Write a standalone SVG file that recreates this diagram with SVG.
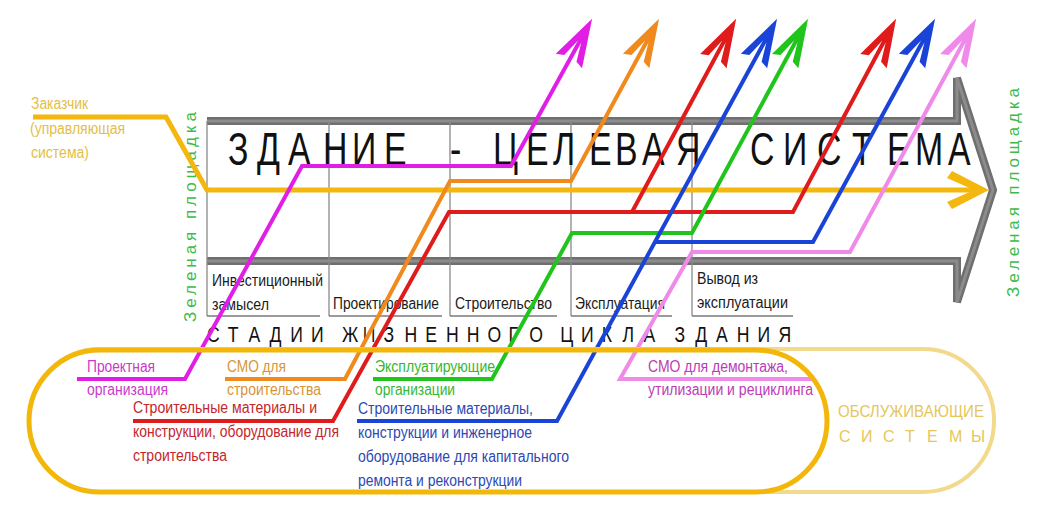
<svg xmlns="http://www.w3.org/2000/svg" width="1039" height="520" viewBox="0 0 1039 520">
<style>
.lbl{font-family:"Liberation Sans",Arial,sans-serif;font-size:16px}
.stg{font-family:"Liberation Sans",Arial,sans-serif;font-size:16px;fill:#1a1a1a}
.big{font-family:"Liberation Sans",Arial,sans-serif;fill:#111}
.grn{font-family:"Liberation Sans",Arial,sans-serif;font-size:17px;fill:#3dbb4a}
.div{stroke:#8a8a8a;stroke-width:1.3;fill:none}
.ln{fill:none;stroke-width:4;stroke-linejoin:miter}
</style>
<defs>
<marker id="ah-mag" markerUnits="userSpaceOnUse" viewBox="-45 -20 60 40" markerWidth="60" markerHeight="40" refX="0" refY="0" orient="auto"><path d="M7,0 L-41,-15 L-38,-7 L-19,-2 L-19,2 L-38,7 L-41,15 Z" fill="#e11ee6"/></marker>
<marker id="ah-org" markerUnits="userSpaceOnUse" viewBox="-45 -20 60 40" markerWidth="60" markerHeight="40" refX="0" refY="0" orient="auto"><path d="M7,0 L-41,-15 L-38,-7 L-19,-2 L-19,2 L-38,7 L-41,15 Z" fill="#f08a1c"/></marker>
<marker id="ah-red" markerUnits="userSpaceOnUse" viewBox="-45 -20 60 40" markerWidth="60" markerHeight="40" refX="0" refY="0" orient="auto"><path d="M7,0 L-41,-15 L-38,-7 L-19,-2 L-19,2 L-38,7 L-41,15 Z" fill="#e01b1b"/></marker>
<marker id="ah-blu" markerUnits="userSpaceOnUse" viewBox="-45 -20 60 40" markerWidth="60" markerHeight="40" refX="0" refY="0" orient="auto"><path d="M7,0 L-41,-15 L-38,-7 L-19,-2 L-19,2 L-38,7 L-41,15 Z" fill="#1a44d8"/></marker>
<marker id="ah-grn" markerUnits="userSpaceOnUse" viewBox="-45 -20 60 40" markerWidth="60" markerHeight="40" refX="0" refY="0" orient="auto"><path d="M7,0 L-41,-15 L-38,-7 L-19,-2 L-19,2 L-38,7 L-41,15 Z" fill="#21c41c"/></marker>
<marker id="ah-vio" markerUnits="userSpaceOnUse" viewBox="-45 -20 60 40" markerWidth="60" markerHeight="40" refX="0" refY="0" orient="auto"><path d="M7,0 L-41,-15 L-38,-7 L-19,-2 L-19,2 L-38,7 L-41,15 Z" fill="#ef8ae9"/></marker>
</defs>
<rect width="1039" height="520" fill="#ffffff"/>

<g id="building-arrow">
<path d="M207,121 H957 V78 L993,190 L957,302 V261 H207" fill="none" stroke="#6f6f6f" stroke-width="8" stroke-linejoin="miter"/>
<path d="M207,121 H957 V78 L993,190 L957,302 V261 H207" fill="none" stroke="#8c8c8c" stroke-width="3" stroke-linejoin="miter"/>
<path class="div" d="M207,121 V316 M329,121 V316 M450,121 V316 M571,121 V316 M692,121 V316"/>
<text class="big" font-size="47" transform="scale(0.72,1)" x="316.7 356.9 400 448.6 488.9 533.3 625 684.7 730.6 768.1 818.1 854.2 891.7 938.9 1041.7 1087.5 1134.7 1183.3 1231.9 1270.8 1316.7" y="165">ЗДАНИЕ-ЦЕЛЕВАЯСИСТЕМА</text>
</g>

<g id="stages">
<path d="M207,316 H320 M329,316 H442 M450,316 H557 M571,316 H672 M692,316 H793" stroke="#7a7a7a" stroke-width="1.6" fill="none"/>
<text class="stg" x="212" y="286" textLength="111" lengthAdjust="spacingAndGlyphs">Инвестиционный</text>
<text class="stg" x="212" y="310" textLength="57" lengthAdjust="spacingAndGlyphs">замысел</text>
<text class="stg" x="333" y="309" textLength="106" lengthAdjust="spacingAndGlyphs">Проектирование</text>
<text class="stg" x="455" y="309" textLength="97" lengthAdjust="spacingAndGlyphs">Строительство</text>
<text class="stg" x="575" y="309" textLength="90" lengthAdjust="spacingAndGlyphs">Эксплуатация</text>
<text class="stg" x="697" y="284" textLength="61" lengthAdjust="spacingAndGlyphs">Вывод из</text>
<text class="stg" x="697" y="308" textLength="91" lengthAdjust="spacingAndGlyphs">эксплуатации</text>
<text class="big" font-size="22" transform="scale(0.8,1)" x="258.75 284.75 310.75 336.75 362.75 388.75 427.5 453.5 479.5 505.5 531.5 557.5 583.5 609.5 635.5 661.5 700.25 726.25 752.25 778.25 804.25 843 869 895 921 947 973" y="342">СТАДИИЖИЗНЕННОГОЦИКЛАЗДАНИЯ</text>
</g>

<g id="green-site">
<text class="grn" transform="translate(196,322) rotate(-90)" x="0" y="0" textLength="210">Зеленая площадка</text>
<text class="grn" transform="translate(1019,297) rotate(-90)" x="0" y="0" textLength="209">Зеленая площадка</text>
</g>

<g id="connectors">
<path d="M33,117 H166 L207,190 H980" fill="none" stroke="#f4b70f" stroke-width="5"/>
<polygon points="989,190 952,171 947,178 974,190 947,202 952,209" fill="#f4b70f"/>
<path class="ln" stroke="#e11ee6" d="M77,379 H185 L302,166 H511 L588.7,25" marker-end="url(#ah-mag)"/>
<path class="ln" stroke="#f08a1c" d="M225,379 H345 L450,181 H571 L655.7,25" marker-end="url(#ah-org)"/>
<path class="ln" stroke="#e01b1b" d="M133,421 H333 L449,212 H793 L892.8,25" marker-end="url(#ah-red)"/>
<path class="ln" stroke="#e01b1b" d="M632,212 L732.8,25" marker-end="url(#ah-red)"/>
<path class="ln" stroke="#21c41c" d="M373,379 H492 L572,233 H692 L804.7,25" marker-end="url(#ah-grn)"/>
<path class="ln" stroke="#1a44d8" d="M357,421 H557 L773.7,25" marker-end="url(#ah-blu)"/>
<path class="ln" stroke="#1a44d8" d="M655,242 H813 L931.7,25" marker-end="url(#ah-blu)"/>
<path class="ln" stroke="#ef8ae9" d="M812,379 H620 L692,252 H850 L972.8,25" marker-end="url(#ah-vio)"/>
</g>

<g id="service-systems">
<rect x="29" y="349" width="965" height="143" rx="71" ry="71" fill="none" stroke="#f3d98b" stroke-width="4"/>
<text class="lbl" x="838" y="417" fill="#e6c65a" textLength="146" lengthAdjust="spacingAndGlyphs">ОБСЛУЖИВАЮЩИЕ</text>
<text class="lbl" x="839 861 883 905 927 949 971" y="442" fill="#e6c65a">СИСТЕМЫ</text>
</g>

<g id="supporting-orgs">
<rect x="29" y="350" width="798" height="142" rx="71" ry="71" fill="none" stroke="#f2b708" stroke-width="5"/>
</g>

<g id="customer">
<text class="lbl" fill="#e3c043" x="31" y="109" textLength="57" lengthAdjust="spacingAndGlyphs">Заказчик</text>
<text class="lbl" fill="#e3c043" x="30" y="134" textLength="95" lengthAdjust="spacingAndGlyphs">(управляющая</text>
<text class="lbl" fill="#e3c043" x="31" y="158" textLength="58" lengthAdjust="spacingAndGlyphs">система)</text>
</g>

<g id="design-org">
<text class="lbl" fill="#c93ac9" x="87" y="372" textLength="68" lengthAdjust="spacingAndGlyphs">Проектная</text>
<text class="lbl" fill="#c93ac9" x="87" y="395" textLength="81" lengthAdjust="spacingAndGlyphs">организация</text>
</g>

<g id="smo-construction">
<text class="lbl" fill="#d89436" x="227" y="372" textLength="59" lengthAdjust="spacingAndGlyphs">СМО для</text>
<text class="lbl" fill="#d89436" x="227" y="395" textLength="94" lengthAdjust="spacingAndGlyphs">строительства</text>
</g>

<g id="materials-construction">
<text class="lbl" fill="#c3262b" x="133" y="413" textLength="184" lengthAdjust="spacingAndGlyphs">Строительные материалы и</text>
<text class="lbl" fill="#c3262b" x="133" y="437" textLength="206" lengthAdjust="spacingAndGlyphs">конструкции, оборудование для</text>
<text class="lbl" fill="#c3262b" x="133" y="461" textLength="94" lengthAdjust="spacingAndGlyphs">строительства</text>
</g>

<g id="operating-orgs">
<text class="lbl" fill="#33b833" x="375" y="372" textLength="120" lengthAdjust="spacingAndGlyphs">Эксплуатирующие</text>
<text class="lbl" fill="#33b833" x="375" y="395" textLength="80" lengthAdjust="spacingAndGlyphs">организации</text>
</g>

<g id="materials-repair">
<text class="lbl" fill="#2d48b4" x="358" y="414" textLength="175" lengthAdjust="spacingAndGlyphs">Строительные материалы,</text>
<text class="lbl" fill="#2d48b4" x="358" y="438" textLength="174" lengthAdjust="spacingAndGlyphs">конструкции и инженерное</text>
<text class="lbl" fill="#2d48b4" x="358" y="462" textLength="211" lengthAdjust="spacingAndGlyphs">оборудование для капитального</text>
<text class="lbl" fill="#2d48b4" x="358" y="486" textLength="164" lengthAdjust="spacingAndGlyphs">ремонта и реконструкции</text>
</g>

<g id="smo-demolition">
<text class="lbl" fill="#bb3bb5" x="648" y="372" textLength="140" lengthAdjust="spacingAndGlyphs">СМО для демонтажа,</text>
<text class="lbl" fill="#bb3bb5" x="648" y="395" textLength="165" lengthAdjust="spacingAndGlyphs">утилизации и рециклинга</text>
</g>
</svg>
